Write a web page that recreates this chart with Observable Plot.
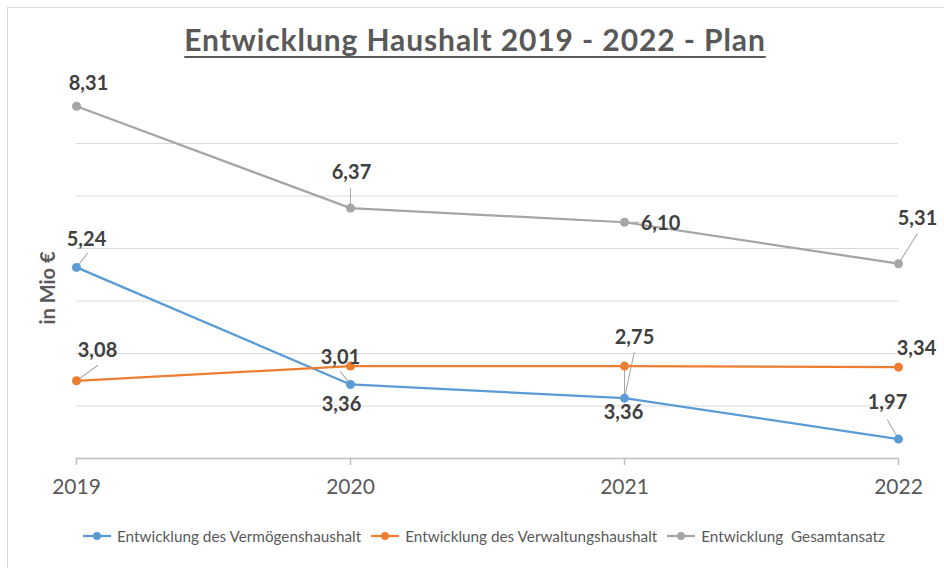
<!DOCTYPE html>
<html>
<head>
<meta charset="utf-8">
<script src="https://cdn.jsdelivr.net/npm/d3@7"></script>
<script src="https://cdn.jsdelivr.net/npm/@observablehq/plot@0.6"></script>
<style>
  html, body { margin: 0; padding: 0; background: #fff; }
  #frame { position: relative; width: 944px; height: 568px; overflow: hidden; font-family: Lato, "Open Sans", sans-serif; }
  #border { position: absolute; left: 7px; top: 7px; width: 1000px; height: 1000px; border: 1px solid #d9d9d9; box-sizing: border-box; }
  #chart { position: absolute; left: 0; top: 0; }
  #title { position: absolute; left: 3px; top: 22px; width: 944px; text-align: center; font-size: 30px; line-height: 34px; font-weight: bold; color: #595959;
           letter-spacing: 0.9px; text-decoration: underline; text-decoration-thickness: 2px; text-underline-offset: 5px; z-index: 2; }
  #ylabel { position: absolute; left: 47px; top: 288px; transform: translate(-50%, -50%) rotate(-90deg); font-size: 20px; font-weight: bold; color: #595959; white-space: pre; z-index: 2; }
  #legend { position: absolute; left: 0; top: 526px; width: 944px; display: flex; justify-content: center; gap: 10px; padding-left: 24px; box-sizing: border-box;
            font-size: 15.3px; line-height: 20px; color: #595959; z-index: 2; }
  .item { display: flex; align-items: center; gap: 6px; white-space: pre; }
</style>
</head>
<body>
<div id="frame">
  <div id="border"></div>
  <div id="chart"></div>
  <div id="title"></div>
  <div id="ylabel"></div>
  <div id="legend"></div>
</div>
<script>
// ---- data ----
const titleText = "Entwicklung Haushalt 2019 - 2022 - Plan";
const yLabel = "in Mio €";
const years = ["2019", "2020", "2021", "2022"];
const seriesNames = ["Entwicklung des Vermögenshaushalt", "Entwicklung des Verwaltungshaushalt", "Entwicklung  Gesamtansatz"];
const vermoegen = [5.24, 3.01, 2.75, 1.97];
const verwaltung = [3.08, 3.36, 3.36, 3.34];
const gesamt = [8.31, 6.37, 6.10, 5.31];
const gridValues = [1.6, 2.6, 3.6, 4.6, 5.6, 6.6, 7.6];

// ---- layout / styles ----
const colors = ["#5b9bd5", "#ed7d31", "#a5a5a5"];
// label offsets [dx, dy] per series per year (pixels)
const labelOffsets = [
  [[10, -28], [-10, -27], [10, -61], [-11, -36]],
  [[21, -30], [-9, 38], [-1, 46], [18, -19]],
  [[12, -23], [1, -35], [36, 1], [19, -45]]
];
// leader lines: [seriesIndex, yearIndex, length px, rotate deg]
const leaders = [
  [2, 3, 35, 32], [0, 0, 18, 38], [1, 0, 26, 54], [0, 3, 22, -30],
  [0, 1, 16, -38], [0, 2, 47, 12], [1, 2, 31, 180], [2, 1, 19, 0], [2, 2, 14, 90]
];

const seriesValues = [vermoegen, verwaltung, gesamt];
const rows = seriesValues.flatMap((vals, si) => vals.map((v, yi) => ({
  series: seriesNames[si], year: years[yi], value: v, si, yi,
  label: v.toFixed(2).replace(".", ",")
})));
const find = (si, yi) => rows.find(d => d.si === si && d.yi === yi);

document.getElementById("title").textContent = titleText;
document.getElementById("ylabel").textContent = yLabel;

const labelMarks = rows.map(d => Plot.text([d], {
  x: "year", y: "value", text: "label",
  dx: labelOffsets[d.si][d.yi][0], dy: labelOffsets[d.si][d.yi][1],
  fontSize: 20, fontWeight: "bold", fill: "#404040"
}));

const leaderData = leaders.map(([si, yi, len, rot]) => ({...find(si, yi), len, rot}));

const plot = Plot.plot({
  width: 944,
  height: 510,
  marginTop: 90.5,
  marginBottom: 52,
  marginLeft: 76,
  marginRight: 46,
  style: { fontFamily: "Lato, 'Open Sans', sans-serif", color: "#595959", background: "transparent", overflow: "visible" },
  x: { type: "point", domain: years, padding: 0 },
  y: { domain: [1.6, 8.6], axis: null },
  length: { type: "identity" },
  color: { domain: seriesNames, range: colors },
  marks: [
    Plot.ruleY(gridValues.slice(1), { stroke: "#d9d9d9", strokeWidth: 1.2 }),
    Plot.ruleY([gridValues[0]], { stroke: "#bfbfbf", strokeWidth: 1.5 }),
    Plot.axisX({ tickSize: 7, tickPadding: 14, stroke: "#bfbfbf", strokeWidth: 1.5, fontSize: 21, fill: "#595959", label: null }),
    Plot.vector(leaderData, { x: "year", y: "value", length: "len", rotate: "rot", anchor: "start", r: 0, stroke: "#a6a6a6", strokeWidth: 1 }),
    Plot.line(rows, { x: "year", y: "value", z: "series", stroke: "series", strokeWidth: 2.25 }),
    Plot.dot(rows, { x: "year", y: "value", fill: "series", r: 4.5 }),
    ...labelMarks
  ]
});
document.getElementById("chart").appendChild(plot);

// legend
const legend = document.getElementById("legend");
seriesNames.forEach((name, i) => {
  const item = document.createElement("div");
  item.className = "item";
  item.innerHTML = `<svg width="28" height="10"><line x1="0" x2="28" y1="5" y2="5" stroke="${colors[i]}" stroke-width="2.25"/><circle cx="14" cy="5" r="4" fill="${colors[i]}"/></svg>`;
  const span = document.createElement("span");
  span.textContent = name;
  item.appendChild(span);
  legend.appendChild(item);
});
</script>
</body>
</html>
